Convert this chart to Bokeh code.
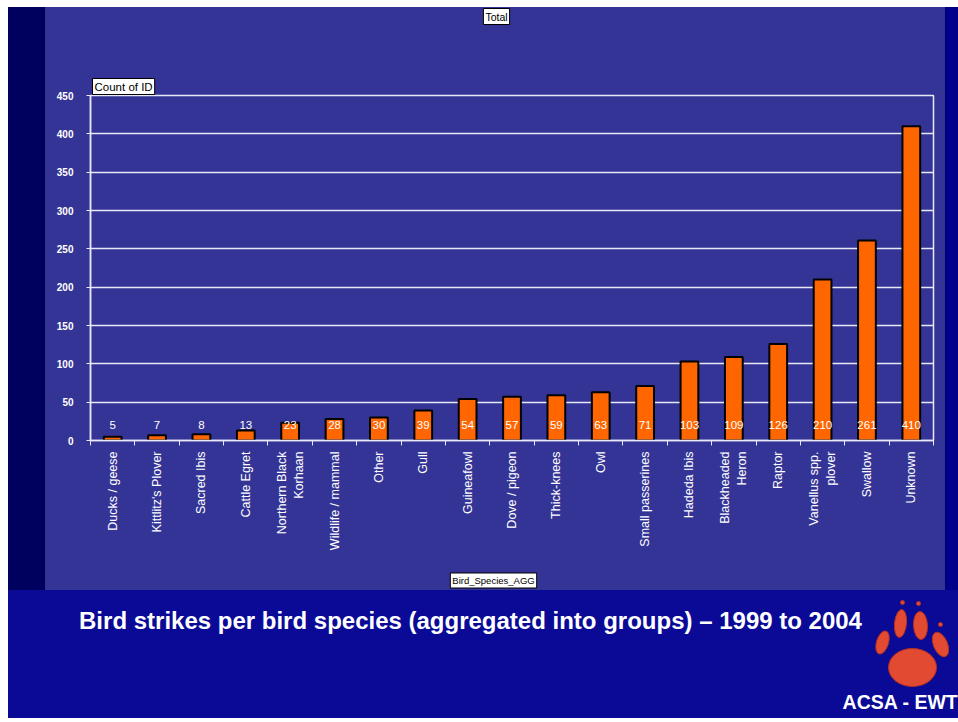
import numpy as np
from bokeh.plotting import figure
from bokeh.layouts import column, row
from bokeh.models import FixedTicker, Range1d, Title, Label, ColumnDataSource
from bokeh.core.properties import value
from bokeh.embed import file_html
from bokeh.resources import INLINE

categories = ["Ducks / geese", "Kittlitz's Plover", "Sacred Ibis", "Cattle Egret",
              "Northern Black\nKorhaan", "Wildlife / mammal", "Other", "Gull",
              "Guineafowl", "Dove / pigeon", "Thick-knees", "Owl", "Small passerines",
              "Hadeda Ibis", "Blackheaded\nHeron", "Raptor", "Vanellus spp.\nplover",
              "Swallow", "Unknown"]
counts = [5, 7, 8, 13, 23, 28, 30, 39, 54, 57, 59, 63, 71, 103, 109, 126, 210, 261, 410]
y_ticks = [0, 50, 100, 150, 200, 250, 300, 350, 400, 450]

FONT = "Liberation Sans"
PANEL = "#343496"
DARK = "#0a0a96"
LINE = "#e8e8f8"

n = len(categories)
xs = np.arange(n) + 0.5
src = ColumnDataSource(dict(x=xs, top=counts, lab=[str(c) for c in counts],
                            ly=[20] * n))

def blank(w, h, color, xr=None):
    f = figure(width=w, height=h, output_backend="svg", toolbar_location=None,
               x_range=xr if xr is not None else Range1d(0, w), y_range=Range1d(h, 0),
               min_border=0, min_border_left=0, min_border_right=0,
               min_border_top=0, min_border_bottom=0)
    f.axis.visible = False
    f.grid.visible = False
    f.outline_line_color = None
    f.background_fill_color = color
    f.border_fill_color = color
    return f

def boxlabel(f, text, x, y, size):
    f.add_layout(Label(x=x, y=y, text=text, text_font=FONT, text_font_size=size,
                       text_color="black", text_align="center", text_baseline="middle",
                       background_fill_color="white", border_line_color="black",
                       border_line_width=1, padding=2))

# ---- main chart ----
p = figure(width=900, height=519, output_backend="svg", toolbar_location=None,
           x_range=Range1d(0, n), y_range=Range1d(0, 450),
           min_border_left=45, min_border_right=12, min_border_top=48,
           min_border_bottom=126)
p.border_fill_color = PANEL
p.background_fill_color = PANEL
p.outline_line_color = LINE
p.outline_line_width = 1.5

p.vbar(x="x", top="top", width=0.4, bottom=0, source=src, fill_color="#ff6600",
       line_color="#000000", line_width=2)
p.text(x="x", y="ly", text="lab", source=src, text_color="white",
       text_font=value(FONT), text_font_size="11.5px", text_align="center",
       text_baseline="middle")

p.yaxis.ticker = FixedTicker(ticks=y_ticks)
p.yaxis.axis_line_color = LINE
p.yaxis.axis_line_width = 1.5
p.yaxis.major_tick_line_color = LINE
p.yaxis.major_tick_out = 4
p.yaxis.major_tick_in = 0
p.yaxis.minor_tick_line_color = None
p.yaxis.major_label_text_color = "white"
p.yaxis.major_label_text_font = FONT
p.yaxis.major_label_text_font_size = "10px"
p.yaxis.major_label_text_font_style = "bold"
p.yaxis.major_label_standoff = 13

p.xaxis.ticker = FixedTicker(ticks=list(xs), minor_ticks=list(range(n + 1)))
p.xaxis.major_label_overrides = {float(x): c for x, c in zip(xs, categories)}
p.xaxis.major_label_orientation = np.pi / 2
p.xaxis.axis_line_color = LINE
p.xaxis.axis_line_width = 1.5
p.xaxis.major_tick_line_color = None
p.xaxis.major_tick_out = 0
p.xaxis.minor_tick_line_color = LINE
p.xaxis.minor_tick_out = 5
p.xaxis.minor_tick_in = 0
p.xaxis.major_label_text_color = "white"
p.xaxis.major_label_text_font = FONT
p.xaxis.major_label_text_font_size = "12.5px"
p.xaxis.major_label_standoff = 6

p.xgrid.grid_line_color = None
p.ygrid.ticker = FixedTicker(ticks=y_ticks)
p.ygrid.grid_line_color = LINE
p.ygrid.grid_line_width = 1.5

p.add_layout(Title(text="Count of ID", align="left", offset=2, standoff=2,
                   text_font=FONT, text_font_size="11.5px", text_font_style="normal",
                   text_color="black", background_fill_color="white",
                   border_line_color="black", border_line_width=1, padding=2), "above")

# ---- strips above / below the chart in the chart panel (frames align with chart) ----
topfig = blank(900, 40, PANEL, Range1d(90, 933))
boxlabel(topfig, "Total", 496, 9, "10.5px")
labfig = blank(900, 24, PANEL, Range1d(90, 933))
boxlabel(labfig, "Bird_Species_AGG", 493, 14, "9.5px")

# ---- slide decorations ----
left = blank(37, 583, "#00005f")
right = blank(13, 583, "#00008a")

bottom = blank(950, 128, DARK)
bottom.text(x=[462], y=[30], text=["Bird strikes per bird species (aggregated into groups) \u2013 1999 to 2004"],
            text_font=value(FONT), text_font_size="24px", text_font_style="bold",
            text_color="white", text_align="center", text_baseline="middle")
bottom.text(x=[950], y=[111], text=["ACSA - EWT"], text_font=value(FONT),
            text_font_size="19.5px", text_font_style="bold", text_color="white",
            text_align="right", text_baseline="middle")
paw_x = [904, 892, 912, 932, 874, 894, 910, 932]
paw_y = [77, 33, 35, 54, 52, 12, 13, 34]
paw_w = [48, 12, 14, 14, 12, 4, 4, 4]
paw_h = [38, 28, 28, 26, 24, 4, 4, 4]
paw_a = [0.0, -0.1, 0.05, 0.4, -0.3, 0, 0, 0]
bottom.ellipse(x=paw_x, y=paw_y, width=paw_w, height=paw_h, angle=paw_a,
               fill_color="#e24a32", line_color="#b83020", line_width=1)

mid = column(topfig, p, labfig, styles={"background-color": PANEL})
top_row = row(left, mid, right, styles={"background-color": "#00005f"})
layout = column(top_row, bottom, margin=(7, 0, 0, 8),
                styles={"background-color": DARK})
open("out.html", "w").write(file_html(layout, INLINE))
